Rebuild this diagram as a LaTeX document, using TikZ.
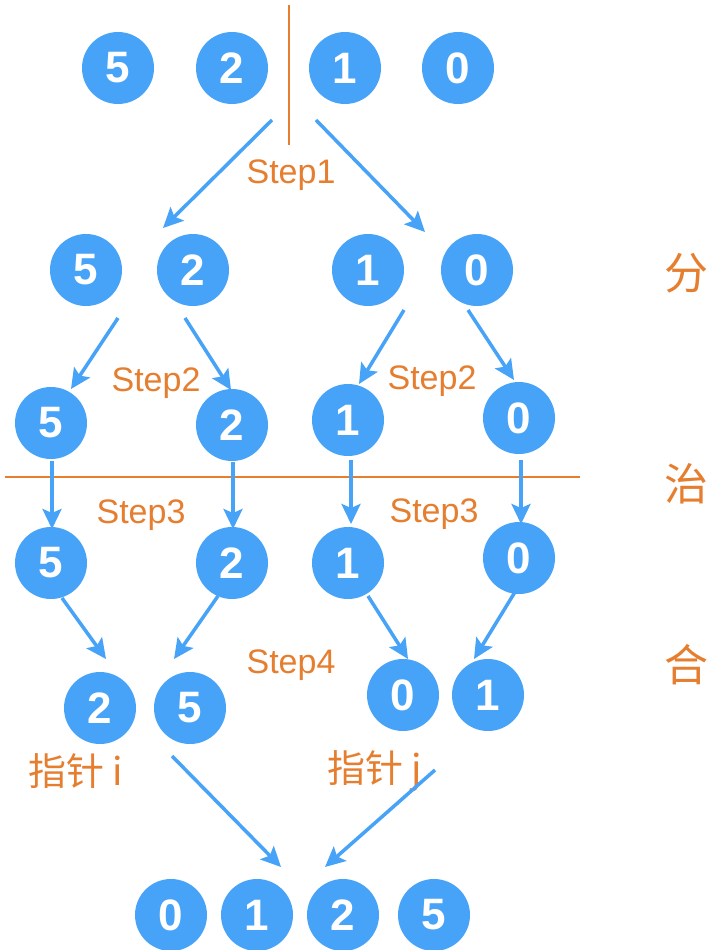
\documentclass[tikz,border=0pt]{standalone}
\usepackage{fontspec}
\setmainfont{Liberation Sans}
\newfontfamily\cjk{Noto Sans CJK SC}
\usetikzlibrary{arrows.meta}
\definecolor{nblue}{HTML}{47A3F7}
\definecolor{norange}{HTML}{E67E30}
\begin{document}
\begin{tikzpicture}[x=1pt,y=-1pt,
 num/.style={circle,fill=nblue,minimum size=72pt,inner sep=0pt,text=white,font=\bfseries\fontsize{44}{44}\selectfont},
 arr/.style={draw=nblue,line width=3.5pt,-{Stealth[length=20pt,width=19pt,inset=4pt]}},
 steplabel/.style={text=norange,font=\fontsize{34}{34}\selectfont,inner sep=0pt},
 cjklabel/.style={text=norange,font=\cjk\fontsize{44}{44}\selectfont,inner sep=0pt},
 ptrlabel/.style={text=norange,font=\cjk\fontsize{38}{38}\selectfont,inner sep=0pt},
 sep/.style={draw=norange,line width=2.5pt}]
\useasboundingbox[fill=white] (0,0) rectangle (716,950);
% separators
\coordinate (v1) at (289,5); \coordinate (v2) at (289,145);
\coordinate (h1) at (5,477); \coordinate (h2) at (580,477);
\draw[sep] (v1) -- (v2);
\draw[sep] (h1) -- (h2);
% row 1
\node[num] (r1a) at (118,68) {5};
\node[num] (r1b) at (232,68) {2};
\node[num] (r1c) at (345,68) {1};
\node[num] (r1d) at (458,68) {0};
% row 2
\node[num] (r2a) at (86,270) {5};
\node[num] (r2b) at (193,270) {2};
\node[num] (r2c) at (368,270) {1};
\node[num] (r2d) at (477,270) {0};
% row 3
\node[num] (r3a) at (51,423) {5};
\node[num] (r3b) at (232,425) {2};
\node[num] (r3c) at (348,420) {1};
\node[num] (r3d) at (519,418) {0};
% row 4
\node[num] (r4a) at (51,563) {5};
\node[num] (r4b) at (232,563) {2};
\node[num] (r4c) at (348,563) {1};
\node[num] (r4d) at (519,558) {0};
% row 5
\node[num] (r5a) at (100,708) {2};
\node[num] (r5b) at (190,708) {5};
\node[num] (r5c) at (403,695) {0};
\node[num] (r5d) at (488,695) {1};
% row 6
\node[num] (r6a) at (171,915) {0};
\node[num] (r6b) at (257,915) {1};
\node[num] (r6c) at (343,915) {2};
\node[num] (r6d) at (434,915) {5};
% labels
\node[steplabel] (s1) at (291,175) {Step1};
\node[steplabel] (s2a) at (156,383) {Step2};
\node[steplabel] (s2b) at (432,381) {Step2};
\node[steplabel] (s3a) at (141,515) {Step3};
\node[steplabel] (s3b) at (434,514) {Step3};
\node[steplabel] (s4) at (291,665) {Step4};
\node[cjklabel] (fen) at (686,273) {分};
\node[cjklabel] (zhi) at (686,484) {治};
\node[cjklabel] (he) at (686,665) {合};
\node[ptrlabel] (pi) at (76,771) {指针 \textit{i}};
\node[ptrlabel] (pj) at (375,771) {指针 \textit{j}};
% arrow end points
\coordinate (a1s) at (272,120); \coordinate (a1e) at (163,228);
\coordinate (a2s) at (316,120); \coordinate (a2e) at (425,232);
\coordinate (b1s) at (118,318); \coordinate (b1e) at (71,389);
\coordinate (b2s) at (185,318); \coordinate (b2e) at (231,390);
\coordinate (b3s) at (404,310); \coordinate (b3e) at (359,384);
\coordinate (b4s) at (468,310); \coordinate (b4e) at (514,380);
\coordinate (c1s) at (52,461); \coordinate (c1e) at (52,529);
\coordinate (c2s) at (233,462); \coordinate (c2e) at (233,529);
\coordinate (c3s) at (351,460); \coordinate (c3e) at (351,524);
\coordinate (c4s) at (521,460); \coordinate (c4e) at (521,524);
\coordinate (d1s) at (62,598); \coordinate (d1e) at (106,659);
\coordinate (d2s) at (218,596); \coordinate (d2e) at (174,659);
\coordinate (d3s) at (368,596); \coordinate (d3e) at (408,659);
\coordinate (d4s) at (515,592); \coordinate (d4e) at (474,659);
\coordinate (e1s) at (172,756); \coordinate (e1e) at (281,867);
\coordinate (e2s) at (435,770); \coordinate (e2e) at (325,867);
\foreach \p in {a1,a2,b1,b2,b3,b4,c1,c2,c3,c4,d1,d2,d3,d4,e1,e2}
  \draw[arr] (\p s) -- (\p e);
\end{tikzpicture}
\end{document}
